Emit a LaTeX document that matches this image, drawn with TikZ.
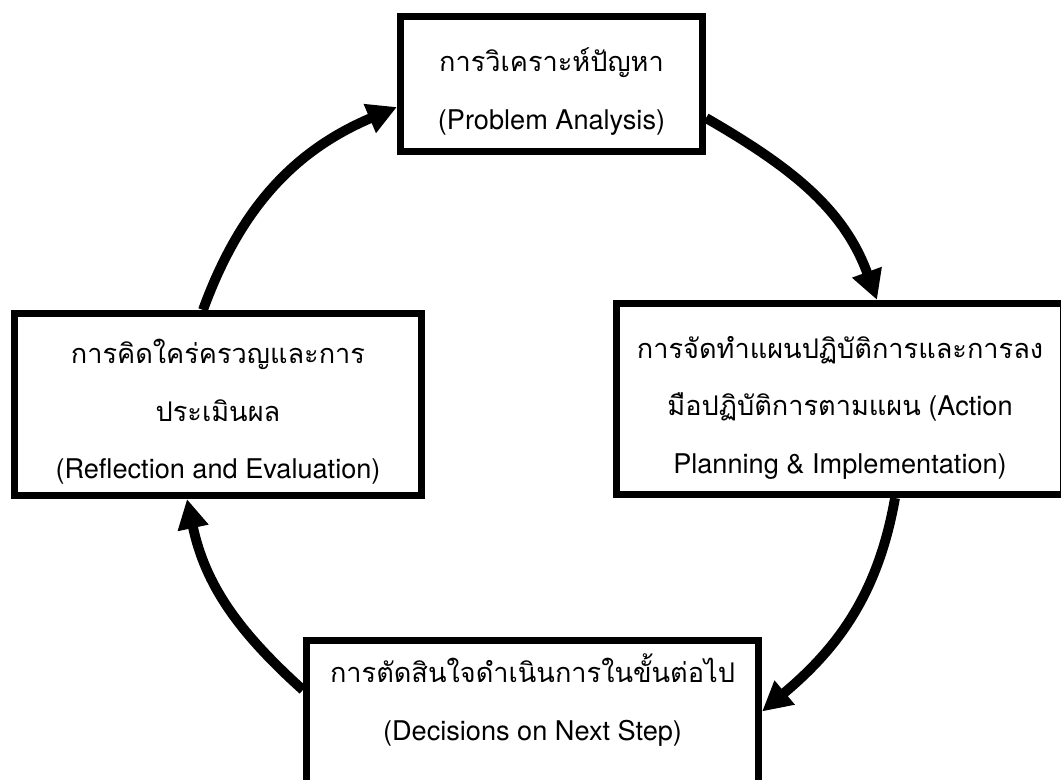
\documentclass[tikz,border=0pt]{standalone}
\usepackage{fontspec}
\setmainfont{TeX Gyre Heros}
\newfontfamily\thaifont[Script=Thai]{Loma}
\usetikzlibrary{arrows.meta}
\newcommand\topgap{\rule{0pt}{28pt}}

\begin{document}
\begin{tikzpicture}[x=0.025cm, y=-0.025cm,
    box/.style={draw, line width=5pt, align=center, inner sep=0pt, font=\fontsize{19.3}{41}\selectfont},
    cycle arrow/.style={line width=7pt, -{Triangle[length=21pt, width=21pt]}}]
    \path[use as bounding box, clip] (0,0) rectangle (1061,780);

    % Stages
    \node[box, minimum width=7.55cm, minimum height=3.375cm] (analysis) at (551.5, 84)
        {\topgap{\thaifont การวิเคราะห์ปัญหา}\\(Problem Analysis)};
    \node[box, minimum width=11.175cm, minimum height=4.775cm] (action) at (840, 399)
        {\topgap{\thaifont การจัดทำแผนปฏิบัติการและการลง}\\{\thaifont มือปฏิบัติการตามแผน} (Action\\Planning \& Implementation)};
    \node[box, minimum width=11.3cm, minimum height=4.55cm] (decision) at (532.5, 731.5)
        {\topgap{\thaifont การตัดสินใจดำเนินการในขั้นต่อไป}\\(Decisions on Next Step)\rule[-56pt]{0pt}{0pt}};
    \node[box, minimum width=10.175cm, minimum height=4.55cm] (reflection) at (218, 404.5)
        {\topgap{\thaifont การคิดใคร่ครวญและการ}\\{\thaifont ประเมินผล}\\(Reflection and Evaluation)};

    % Cycle
    \draw[cycle arrow] ([xshift=-0.375cm]reflection.north) to[out=70, in=203] ([yshift=-0.575cm]analysis.west);
    \draw[cycle arrow] ([yshift=-0.85cm]analysis.east) to[out=-30, in=110] ([xshift=0.925cm]action.north);
    \draw[cycle arrow] ([xshift=1.375cm]action.south) to[out=-100, in=40] ([yshift=0.5cm]decision.east);
    \draw[cycle arrow] ([yshift=-1.325cm]decision.north west) to[out=138, in=-78] ([xshift=-0.775cm]reflection.south);
\end{tikzpicture}
\end{document}
